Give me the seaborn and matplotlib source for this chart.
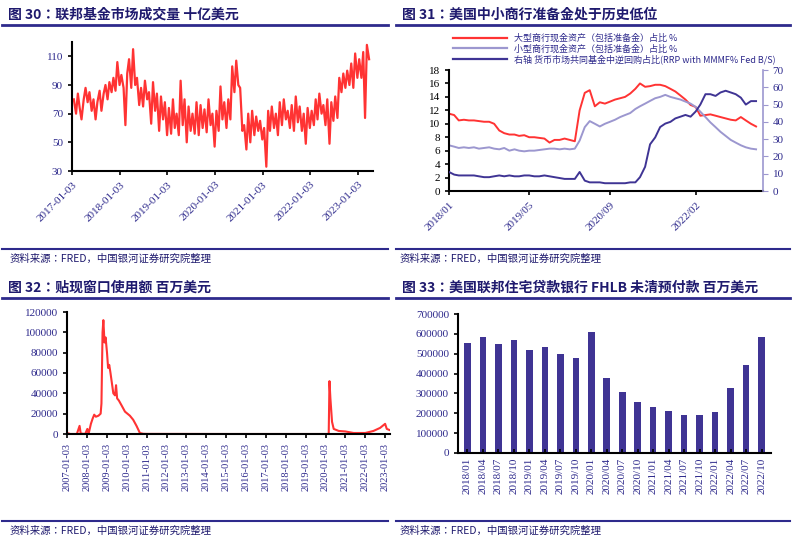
import numpy as np
import pandas as pd
import matplotlib
matplotlib.use("Agg")
import matplotlib.pyplot as plt
from matplotlib import font_manager
from matplotlib.lines import Line2D
import seaborn as sns

cjk_names = sorted({f.name for f in font_manager.fontManager.ttflist if "CJK" in f.name})
CJK = "Noto Sans CJK SC" if "Noto Sans CJK SC" in cjk_names else (cjk_names[0] if cjk_names else "DejaVu Sans")
plt.rcParams["font.family"] = ["Liberation Serif", CJK]
NAVY = "#2E2A8C"
RED = "#FF3333"
LAV = "#9C97CF"
DARK = "#3F3494"

# ---------------- data ----------------
ff_start = "2017-01-03"
ff_values = [80,70,84,74,66,80,88,78,85,72,80,66,78,86,72,84,90,80,92,85,95,86,106,90,
             97,88,62,98,108,88,115,90,95,76,88,75,93,80,85,63,92,72,84,58,82,66,78,55,
             74,56,80,60,70,55,93,62,80,50,75,58,70,56,78,55,76,60,73,57,80,62,70,47,
             72,58,89,66,78,60,80,66,103,85,107,90,88,58,62,45,70,50,72,55,68,58,65,52,
             60,33,72,58,75,60,70,55,78,62,80,66,72,60,76,58,82,64,75,58,70,49,74,60,
             72,62,80,66,84,70,76,62,80,49,78,65,82,67,95,85,98,88,100,90,105,88,112,95,
             108,95,113,67,118,108]
ff_ticks = ["2017-01-03","2018-01-03","2019-01-03","2020-01-03","2021-01-03","2022-01-03","2023-01-03"]

res_start = "2018-01-01"
large_bank = [11.5,11.3,10.5,10.6,10.5,10.5,10.4,10.3,10.3,10.0,9.0,8.6,
              8.4,8.4,8.2,8.3,8.0,8.0,7.9,7.8,7.2,7.6,7.6,7.8,
              7.6,7.4,12.0,14.6,15.0,12.6,13.2,13.0,13.3,13.6,13.8,14.0,
              14.5,15.2,16.0,15.5,15.6,15.8,15.8,15.6,15.2,14.8,14.2,13.6,
              12.8,12.5,11.2,11.3,11.4,11.2,11.0,10.8,10.6,10.5,11.0,10.5,
              10.0,9.6]
small_bank = [6.8,6.6,6.4,6.5,6.4,6.5,6.3,6.4,6.5,6.3,6.2,6.4,
              6.0,6.2,6.0,5.9,6.0,6.0,6.1,6.2,6.3,6.3,6.2,6.3,
              6.2,6.3,7.5,9.5,10.4,10.0,9.6,10.0,10.3,10.6,11.0,11.3,
              11.6,12.2,12.6,13.0,13.4,13.8,14.0,14.3,14.0,13.8,13.6,13.3,
              13.0,12.5,11.8,11.0,10.2,9.5,8.8,8.2,7.6,7.2,6.8,6.5,
              6.3,6.2]
rrp_share = [11,9.5,9,9,9,9,8.5,8,8,8.5,9,8.5,
             9,8.5,8.5,9,9,8.5,8.5,9,8.5,8,7.5,7,
             7,7,11,6,5,5,5,4.5,4.5,4.5,4.5,4.5,
             5,5,8,14,27,31,37,39,40,42,43,44,
             43,46,50,56,56,55,57,58,57,56,54,50,
             52,52]
res_ticks = ["2018-01-01","2019-05-01","2020-09-01","2022-02-01"]
res_labels = ["2018/01","2019/05","2020/09","2022/02"]
res_legend = ["大型商行现金资产（包括准备金）占比 %",
              "小型商行现金资产（包括准备金）占比 %",
              "右轴 货币市场共同基金中逆回购占比(RRP with MMMF% Fed B/S)"]

dw_dates = ["2007-01-03","2007-03-01","2007-07-01","2007-08-20","2007-09-10","2007-12-01","2008-01-10","2008-02-01",
            "2008-03-15","2008-04-15","2008-05-15","2008-06-15","2008-08-01","2008-09-10","2008-09-25","2008-10-15",
            "2008-10-30","2008-11-20","2008-12-10","2009-01-05","2009-01-25","2009-02-15","2009-03-10","2009-04-05",
            "2009-05-01","2009-06-01","2009-06-20","2009-07-10","2009-08-10","2009-10-01","2009-12-01","2010-01-15",
            "2010-03-01","2010-05-01","2010-07-01","2010-09-01","2010-11-01","2011-01-01","2015-01-01","2020-03-01",
            "2020-03-15","2020-04-01","2020-05-01","2020-06-01","2020-09-01","2021-01-01","2021-06-01","2022-01-01",
            "2022-06-01","2022-10-01","2023-01-01","2023-02-01","2023-03-20"]
dw_values = [1000,0,0,8000,500,0,5000,0,
             10000,15000,19000,17000,18000,20000,30000,100000,
             112000,90000,95000,80000,65000,68000,60000,50000,
             40000,38000,48000,35000,33000,28000,22000,20000,
             18000,14000,8000,1000,200,100,0,0,
             52000,35000,12000,5000,3000,2500,1000,1000,
             3000,6000,10000,5000,4000]
dw_ticks = [f"{y}-01-03" for y in range(2007, 2024)]

fhlb_labels = ["2018/01","2018/04","2018/07","2018/10","2019/01","2019/04","2019/07","2019/10",
               "2020/01","2020/04","2020/07","2020/10","2021/01","2021/04","2021/07","2021/10",
               "2022/01","2022/04","2022/07","2022/10"]
fhlb_values = [555000,585000,550000,570000,520000,535000,500000,480000,
               610000,380000,305000,255000,230000,210000,190000,190000,
               205000,325000,445000,585000]

titles = ["图 30：联邦基金市场成交量 十亿美元", "图 31：美国中小商行准备金处于历史低位",
          "图 32：贴现窗口使用额 百万美元", "图 33：美国联邦住宅贷款银行 FHLB 未清预付款 百万美元"]
source = "资料来源：FRED，中国银河证券研究院整理"

# ---------------- figure ----------------
W, H = 792, 545
fig = plt.figure(figsize=(W/100, H/100), dpi=100)
fig.patch.set_facecolor("white")

def rect(l, t, r, b):
    return [l/W, 1-b/H, (r-l)/W, (b-t)/H]

def hline(x0, x1, y, lw=2.0):
    fig.add_artist(Line2D([x0/W, x1/W], [1-y/H, 1-y/H], color=NAVY, lw=lw, transform=fig.transFigure))

def style(ax):
    for s in ["top", "right"]:
        ax.spines[s].set_visible(False)
    for s in ["left", "bottom"]:
        ax.spines[s].set_linewidth(1.5)
        ax.spines[s].set_color("black")
    ax.tick_params(colors="black", labelcolor=NAVY, labelsize=8, width=1.2, length=3)
    ax.set_xlabel(""); ax.set_ylabel("")

for (x, y, t) in [(8, 15, titles[0]), (402, 15, titles[1]), (8, 288, titles[2]), (402, 288, titles[3])]:
    fig.text(x/W, 1-y/H, t, fontsize=10, fontweight="bold", color="#1F1A6E", va="center",
             family=[CJK])
hline(2, 388, 25); hline(396, 790, 25)
hline(2, 388, 298); hline(396, 790, 298)
hline(2, 388, 249, 1.5); hline(396, 790, 249, 1.5)
hline(2, 388, 521, 1.5); hline(396, 790, 521, 1.5)
for (x, y) in [(10, 259), (400, 259), (10, 531), (400, 531)]:
    fig.text(x/W, 1-y/H, source, fontsize=7.5, style="italic", color="#1F1A6E", va="center", family=[CJK])

# Panel 30
ax1 = fig.add_axes(rect(72, 42, 373, 171))
df1 = pd.DataFrame({"date": pd.date_range(ff_start, periods=len(ff_values), freq="SMS"), "v": ff_values})
sns.lineplot(data=df1, x="date", y="v", ax=ax1, color=RED, lw=1.6)
ax1.set_ylim(30, 120)
ax1.set_yticks([30, 50, 70, 90, 110])
ax1.set_xlim(pd.Timestamp("2017-01-01"), pd.Timestamp("2023-05-01"))
ax1.set_xticks(pd.to_datetime(ff_ticks))
ax1.set_xticklabels(ff_ticks, rotation=45, ha="right", rotation_mode="anchor")
style(ax1)

# Panel 31
ax2 = fig.add_axes(rect(449, 70, 763, 191))
dates2 = pd.date_range(res_start, periods=len(large_bank), freq="MS")
df2 = pd.DataFrame({"date": dates2, "large": large_bank, "small": small_bank, "rrp": rrp_share})
sns.lineplot(data=df2, x="date", y="large", ax=ax2, color=RED, lw=1.4)
sns.lineplot(data=df2, x="date", y="small", ax=ax2, color=LAV, lw=1.4)
ax2b = ax2.twinx()
sns.lineplot(data=df2, x="date", y="rrp", ax=ax2b, color=DARK, lw=1.4)
ax2.set_ylim(0, 18); ax2.set_yticks(range(0, 19, 2))
ax2b.set_ylim(0, 70); ax2b.set_yticks(range(0, 71, 10))
ax2.set_xlim(pd.Timestamp("2018-01-01"), pd.Timestamp("2023-03-15"))
ax2.set_xticks(pd.to_datetime(res_ticks))
ax2.set_xticklabels(res_labels, rotation=45, ha="right", rotation_mode="anchor")
style(ax2)
ax2.tick_params(axis="y", labelcolor="black")
for s in ["top", "left", "bottom"]:
    ax2b.spines[s].set_visible(False)
ax2b.spines["right"].set_color(LAV); ax2b.spines["right"].set_linewidth(1.2)
ax2b.tick_params(labelcolor=NAVY, labelsize=8, colors=LAV)
ax2b.set_ylabel("")
handles = [Line2D([], [], color=c, lw=1.6) for c in (RED, LAV, DARK)]
leg = fig.legend(handles, res_legend, loc="upper left", bbox_to_anchor=(448/W, 1-29/H),
                 frameon=False, fontsize=6.5, handlelength=6, labelspacing=0.15, borderpad=0,
                 prop={"family": [CJK], "size": 6.5})
for t in leg.get_texts():
    t.set_color(NAVY)

# Panel 32
ax3 = fig.add_axes(rect(67, 312, 390, 434))
df3 = pd.DataFrame({"date": pd.to_datetime(dw_dates), "v": dw_values})
sns.lineplot(data=df3, x="date", y="v", ax=ax3, color=RED, lw=1.5)
ax3.set_ylim(0, 120000)
ax3.set_yticks(range(0, 120001, 20000))
ax3.set_xlim(pd.Timestamp("2007-01-01"), pd.Timestamp("2023-04-01"))
ax3.set_xticks(pd.to_datetime(dw_ticks))
ax3.set_xticklabels(dw_ticks, rotation=90)
style(ax3)
ax3.tick_params(axis="x", labelsize=7.5)

# Panel 33
ax4 = fig.add_axes(rect(458, 314, 771, 453))
df4 = pd.DataFrame({"cat": fhlb_labels, "v": fhlb_values})
sns.barplot(data=df4, x="cat", y="v", ax=ax4, color="#3F3494", saturation=1, width=0.42)
ax4.set_ylim(0, 700000)
ax4.set_yticks(range(0, 700001, 100000))
ax4.set_xlim(-0.6, len(fhlb_labels) - 0.4)
ax4.tick_params(axis="x", rotation=90)
style(ax4)
ax4.tick_params(axis="x", direction="in", labelsize=8)

fig.savefig("out.png", dpi=100, facecolor="white")
